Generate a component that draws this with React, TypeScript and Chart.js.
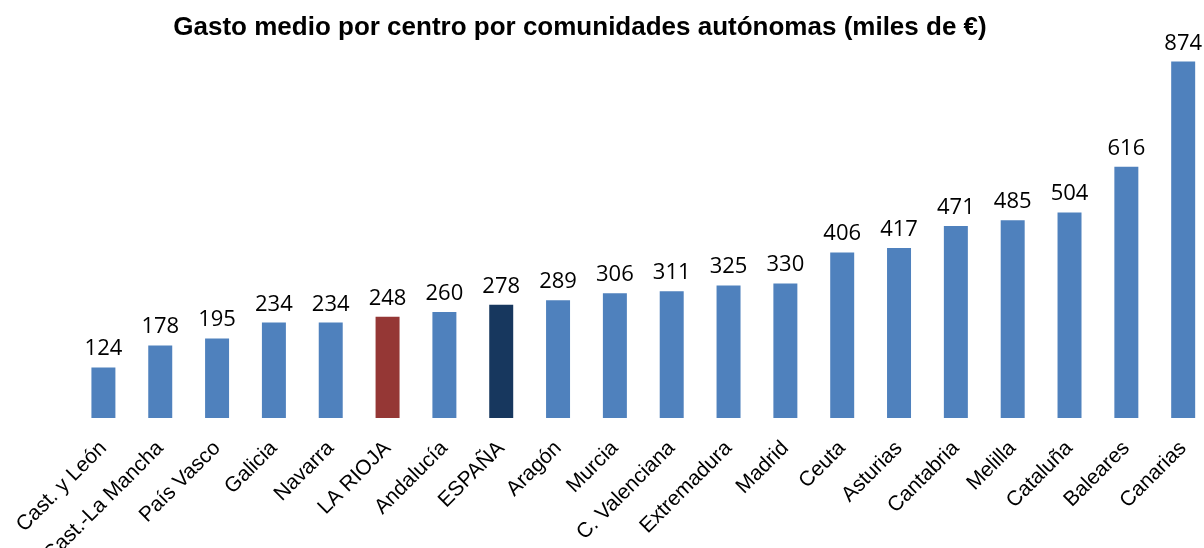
import React, { useEffect, useRef } from "react";
import { Chart, registerables } from "chart.js";

Chart.register(...registerables);

const categories = [
  "Cast. y León", "Cast.-La Mancha", "País Vasco", "Galicia", "Navarra", "LA RIOJA",
  "Andalucía", "ESPAÑA", "Aragón", "Murcia", "C. Valenciana", "Extremadura", "Madrid",
  "Ceuta", "Asturias", "Cantabria", "Melilla", "Cataluña", "Baleares", "Canarias",
];
const values = [124, 178, 195, 234, 234, 248, 260, 278, 289, 306, 311, 325, 330, 406, 417, 471, 485, 504, 616, 874];
const titleText = "Gasto medio por centro por comunidades autónomas (miles de €)";

const BLUE = "#4F81BD";
const RED = "#953735";
const NAVY = "#17375E";

const barColors = categories.map((c) => (c === "LA RIOJA" ? RED : c === "ESPAÑA" ? NAVY : BLUE));

export default function App() {
  const ref = useRef<HTMLCanvasElement | null>(null);
  useEffect(() => {
    document.body.style.margin = "0";
    document.body.style.overflow = "hidden";
    const ctx = ref.current!;
    const valueLabels = {
      id: "valueLabels",
      afterDatasetsDraw(chart: any) {
        const c = chart.ctx;
        const meta = chart.getDatasetMeta(0);
        c.save();
        c.font = "22px 'Open Sans'";
        c.fillStyle = "#000";
        c.textAlign = "center";
        c.textBaseline = "alphabetic";
        meta.data.forEach((el: any, i: number) => {
          c.fillText(String(values[i]), el.x, el.y - 12);
        });
        c.restore();
      },
    };
    const titlePlugin = {
      id: "customTitle",
      afterDraw(chart: any) {
        const c = chart.ctx;
        c.save();
        c.font = "bold 26px 'Liberation Sans'";
        c.fillStyle = "#000";
        c.textAlign = "center";
        c.textBaseline = "middle";
        c.fillText(titleText, 580, 28);
        c.restore();
      },
    };
    const chart = new Chart(ctx, {
      type: "bar",
      data: {
        labels: categories,
        datasets: [
          {
            data: values,
            backgroundColor: barColors,
            borderWidth: 0,
            barPercentage: 0.844,
            categoryPercentage: 0.5,
          },
        ],
      },
      options: {
        animation: false,
        responsive: true,
        maintainAspectRatio: false,
        layout: { padding: { left: 75, right: 0, top: 51, bottom: 0 } },
        plugins: {
          legend: { display: false },
          title: { display: false },
          tooltip: { enabled: false },
        },
        scales: {
          x: {
            grid: { display: false, drawTicks: false },
            border: { display: false },
            ticks: {
              autoSkip: false,
              maxRotation: 45,
              minRotation: 45,
              padding: 18,
              color: "#000",
              font: { family: "'Liberation Sans'", size: 21 },
            },
            afterFit: (scale: any) => {
              scale.height = 130;
            },
          },
          y: {
            display: false,
            min: 0,
            max: 900,
          },
        },
      },
      plugins: [valueLabels, titlePlugin],
    });
    return () => chart.destroy();
  }, []);
  return (
    <div style={{ position: "absolute", left: 0, top: 0, width: 1204, height: 548, overflow: "hidden" }}>
      <div style={{ position: "relative", width: 1219, height: 548 }}>
        <canvas ref={ref} />
      </div>
    </div>
  );
}
